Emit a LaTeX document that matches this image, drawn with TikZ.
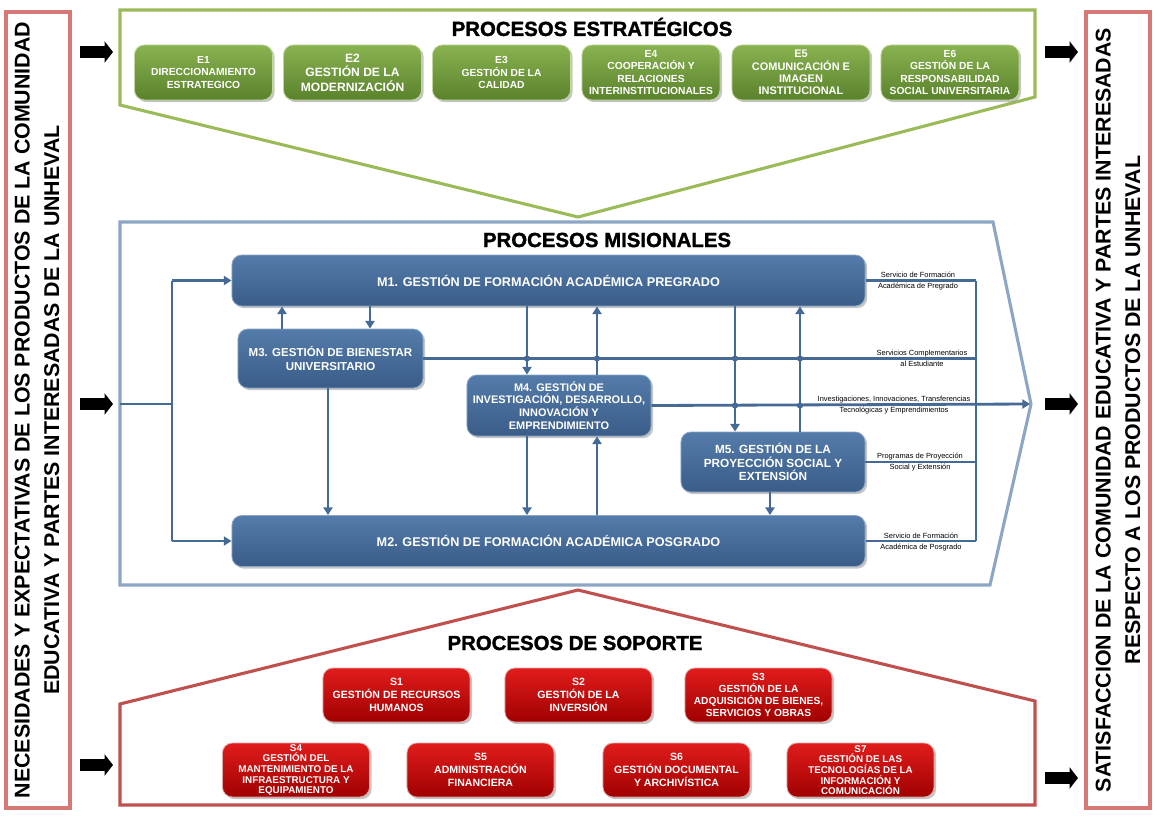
\documentclass[tikz,border=0pt]{standalone}
\usepackage{fontspec}
\setmainfont{Liberation Sans}
\newfontfamily\grueso{Liberation Sans}[BoldFeatures={FakeBold=1.6}]
\usetikzlibrary{arrows.meta,shadows}

\definecolor{verdeBorde}{RGB}{155,187,89}
\definecolor{verdeTop}{RGB}{137,178,80}
\definecolor{verdeBot}{RGB}{90,130,44}
\definecolor{azulLinea}{RGB}{69,106,150}
\definecolor{azulTop}{RGB}{84,124,170}
\definecolor{azulBot}{RGB}{58,92,136}
\definecolor{azulBorde}{RGB}{140,166,196}
\definecolor{rojoBorde}{RGB}{192,80,77}
\definecolor{rojoTop}{RGB}{225,28,28}
\definecolor{rojoBot}{RGB}{160,0,0}
\definecolor{ladoBorde}{RGB}{214,120,118}

\begin{document}
\begin{tikzpicture}[x=0.025cm,y=-0.025cm,
    caja/.style={rounded corners=7pt, align=center, text=white, inner sep=0.5pt,
      drop shadow={opacity=0.45,shadow xshift=1.5pt,shadow yshift=-1.5pt}},
    estrat/.style={caja, draw=verdeBorde!60!white, line width=0.6pt, top color=verdeTop,
      bottom color=verdeBot, minimum width=3.45cm, minimum height=1.375cm,
      font=\bfseries\fontsize{7.3}{8.6}\selectfont},
    misional/.style={caja, draw=azulBorde, line width=0.6pt, top color=azulTop,
      bottom color=azulBot, font=\bfseries\fontsize{7.8}{9}\selectfont},
    soporte/.style={caja, draw=rojoBorde!50!white, line width=0.6pt, top color=rojoTop,
      bottom color=rojoBot, minimum width=3.675cm, minimum height=1.35cm,
      font=\bfseries\fontsize{7.5}{9}\selectfont},
    flow/.style={draw=azulLinea, line width=2pt, -{Triangle[length=5.5pt,width=6.5pt]}},
    flowline/.style={draw=azulLinea, line width=2pt},
    salidatxt/.style={font=\fontsize{5.3}{7.8}\selectfont, align=center, inner sep=0pt},
    titulo/.style={font=\grueso\bfseries\fontsize{14.5}{16}\selectfont},
    bigarrow/.style={line width=8pt, -{Triangle[length=6pt,width=15pt]}},
    lado/.style={draw=ladoBorde, line width=3pt},
    ladotxt/.style={rotate=90, align=center, font=\bfseries\fontsize{15.2}{21}\selectfont}]
\useasboundingbox (0,0) rectangle (1162,817);

% Drawing side boxes
\draw [lado] (6,12) rectangle (70,808);%
\node [ladotxt] (necesidades) at (37,410) {NECESIDADES Y EXPECTATIVAS DE LOS PRODUCTOS DE LA COMUNIDAD\\EDUCATIVA Y PARTES INTERESADAS DE LA UNHEVAL};%
\draw [lado] (1086,12) rectangle (1150,808);%
\node [ladotxt] (satisfaccion) at (1118,410) {SATISFACCION DE LA COMUNIDAD EDUCATIVA Y PARTES INTERESADAS\\RESPECTO A LOS PRODUCTOS DE LA UNHEVAL};%

% Drawing black arrows in and out
\draw [bigarrow] (80,52) -- (113,52);%
\draw [bigarrow] (80,404) -- (113,404);%
\draw [bigarrow] (80,765) -- (113,765);%
\draw [bigarrow] (1045,52) -- (1078,52);%
\draw [bigarrow] (1045,404) -- (1078,404);%
\draw [bigarrow] (1045,778) -- (1078,778);%

% Drawing area of strategic processes
\draw [verdeBorde, line width=2.2pt] (120,10) -- (1035,10) -- (1035,97) -- (578,217) -- (120,105) -- cycle;%
\node [titulo] (tEstrat) at (592,27) {PROCESOS ESTRATÉGICOS};%
\node [estrat] (E1) at (203.5,72.5) {E1\\DIRECCIONAMIENTO\\ESTRATEGICO};%
\node [estrat, font=\bfseries\fontsize{8.6}{10.2}\selectfont] (E2) at (352.5,72.5) {E2\\GESTIÓN DE LA\\MODERNIZACIÓN};%
\node [estrat] (E3) at (501.5,72.5) {E3\\GESTIÓN DE LA\\CALIDAD};%
\node [estrat] (E4) at (651,72.5) {E4\\COOPERACIÓN Y\\RELACIONES\\INTERINSTITUCIONALES};%
\node [estrat, font=\bfseries\fontsize{7.8}{8.8}\selectfont] (E5) at (801,72.5) {E5\\COMUNICACIÓN E\\IMAGEN\\INSTITUCIONAL};%
\node [estrat] (E6) at (950,72.5) {E6\\GESTIÓN DE LA\\RESPONSABILIDAD\\SOCIAL UNIVERSITARIA};%

% Drawing area of mission processes
\draw [azulBorde, line width=2.2pt] (120,222) -- (993,222) -- (1031,404) -- (990,585) -- (120,585) -- cycle;%
\node [titulo] (tMision) at (607,240) {PROCESOS MISIONALES};%
\node [misional, minimum width=15.825cm, minimum height=1.275cm, font=\bfseries\fontsize{9}{10}\selectfont] (M1) at (548.5,280.5) {M1. GESTIÓN DE FORMACIÓN ACADÉMICA PREGRADO};%
\node [misional, minimum width=15.825cm, minimum height=1.275cm, font=\bfseries\fontsize{9}{10}\selectfont] (M2) at (548.5,541) {M2. GESTIÓN DE FORMACIÓN ACADÉMICA POSGRADO};%
\node [misional, minimum width=4.625cm, minimum height=1.475cm, font=\bfseries\fontsize{8.2}{9.4}\selectfont] (M3) at (330.5,358.5) {M3. GESTIÓN DE BIENESTAR\\UNIVERSITARIO};%
\node [misional, minimum width=4.6cm, minimum height=1.525cm] (M4) at (559,405.5) {M4. GESTIÓN DE\\INVESTIGACIÓN, DESARROLLO,\\INNOVACIÓN Y\\EMPRENDIMIENTO};%
\node [misional, minimum width=4.6cm, minimum height=1.5cm, font=\bfseries\fontsize{8.4}{9.4}\selectfont] (M5) at (773,462) {M5. GESTIÓN DE LA\\PROYECCIÓN SOCIAL Y\\EXTENSIÓN};%

% Lanes of the connectors
\coordinate (entrada) at (120,404);%
\coordinate (salida) at (1030,404);%
\coordinate (laneIn) at (172,0);%
\coordinate (laneA) at (282,0);%
\coordinate (laneB) at (370,0);%
\coordinate (laneC) at (328,0);%
\coordinate (laneD) at (527,0);%
\coordinate (laneE) at (597,0);%
\coordinate (laneF) at (735,0);%
\coordinate (laneG) at (800,0);%
\coordinate (laneH) at (770,0);%
\coordinate (laneO) at (976,0);%

% Drawing input of mission processes
\draw [flowline] (entrada) -- (entrada -| laneIn);%
\draw [flowline] (M1.west -| laneIn) -- (M2.west -| laneIn);%
\draw [flow] (M1.west -| laneIn) -- (M1.west);%
\draw [flow] (M2.west -| laneIn) -- (M2.west);%

% Drawing outputs of mission processes
\draw [flowline] (M1.east) -- (M1.east -| laneO);%
\draw [flowline] (M3.east) -- (M3.east -| laneO);%
\draw [flowline] (M5.east) -- (M5.east -| laneO);%
\draw [flowline] (M2.east) -- (M2.east -| laneO);%
\draw [flowline] (M1.east -| laneO) -- (M2.east -| laneO);%
\draw [flow] (M4.east) -- (salida);%

% Drawing links between mission processes
\draw [flow] (M3.north -| laneA) -- (M1.south -| laneA);%
\draw [flow] (M1.south -| laneB) -- (M3.north -| laneB);%
\draw [flow] (M3.south -| laneC) -- (M2.north -| laneC);%
\draw [flow] (M1.south -| laneD) -- (M4.north -| laneD);%
\draw [flow] (M4.north -| laneE) -- (M1.south -| laneE);%
\draw [flow] (M4.south -| laneD) -- (M2.north -| laneD);%
\draw [flow] (M2.north -| laneE) -- (M4.south -| laneE);%
\draw [flow] (M1.south -| laneF) -- (M5.north -| laneF);%
\draw [flow] (M5.north -| laneG) -- (M1.south -| laneG);%
\draw [flow] (M5.south -| laneH) -- (M2.north -| laneH);%

% Marking crossings by dots
\fill [azulLinea] (laneD |- M3.east) circle (2.2pt);%
\fill [azulLinea] (laneE |- M3.east) circle (2.2pt);%
\fill [azulLinea] (laneF |- M3.east) circle (2.2pt);%
\fill [azulLinea] (laneG |- M3.east) circle (2.2pt);%
\fill [azulLinea] (laneF |- M4.east) circle (2.2pt);%
\fill [azulLinea] (laneG |- M4.east) circle (2.2pt);%

% Marking outputs by labels
\node [salidatxt] (out1) at (918,281) {Servicio de Formación\\Académica de Pregrado};%
\node [salidatxt] (out3) at (922,358) {Servicios Complementarios\\al Estudiante};%
\node [salidatxt] (out4) at (894,405) {Investigaciones, Innovaciones, Transferencias\\Tecnológicas y Emprendimientos};%
\node [salidatxt] (out5) at (920,462) {Programas de Proyección\\Social y Extensión};%
\node [salidatxt] (out2) at (921,542) {Servicio de Formación\\Académica de Posgrado};%

% Drawing area of support processes
\draw [rojoBorde, line width=2.2pt] (120,805) -- (120,704) -- (578,590) -- (1035,701) -- (1035,805) -- cycle;%
\node [titulo] (tSoporte) at (575,643) {PROCESOS DE SOPORTE};%
\node [soporte] (S1) at (396.5,695) {S1\\GESTIÓN DE RECURSOS\\HUMANOS};%
\node [soporte] (S2) at (578.5,695) {S2\\GESTIÓN DE LA\\INVERSIÓN};%
\node [soporte, font=\bfseries\fontsize{7.3}{8.4}\selectfont] (S3) at (758.5,695) {S3\\GESTIÓN DE LA\\ADQUISICIÓN DE BIENES,\\SERVICIOS Y OBRAS};%
\node [soporte, font=\bfseries\fontsize{7}{7.6}\selectfont] (S4) at (296,770) {S4\\GESTIÓN DEL\\MANTENIMIENTO DE LA\\INFRAESTRUCTURA Y\\EQUIPAMIENTO};%
\node [soporte] (S5) at (480.5,770) {S5\\ADMINISTRACIÓN\\FINANCIERA};%
\node [soporte] (S6) at (676.5,770) {S6\\GESTIÓN DOCUMENTAL\\Y ARCHIVÍSTICA};%
\node [soporte, font=\bfseries\fontsize{7}{7.6}\selectfont] (S7) at (860.5,770) {S7\\GESTIÓN DE LAS\\TECNOLOGÍAS DE LA\\INFORMACIÓN Y\\COMUNICACIÓN};%
\end{tikzpicture}
\end{document}
